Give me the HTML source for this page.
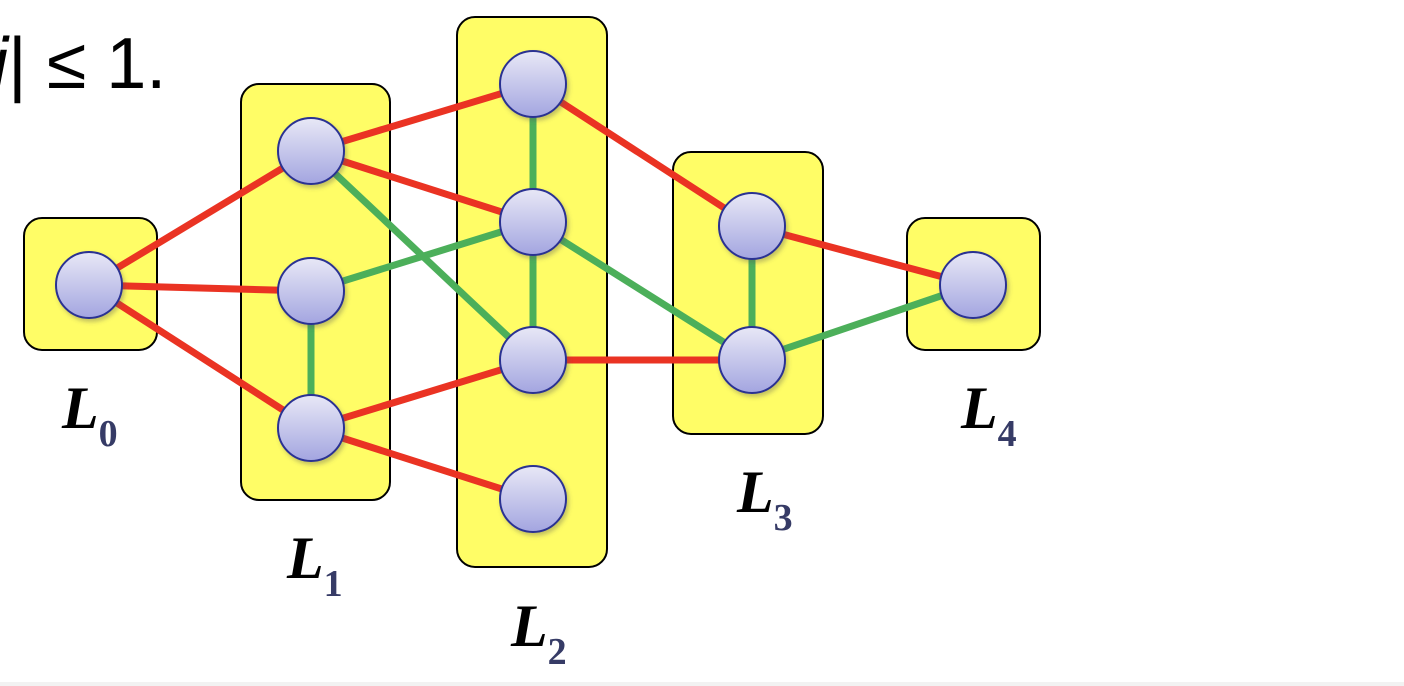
<!DOCTYPE html>
<html><head><style>
html,body{margin:0;padding:0;background:#fff;}
svg{display:block}
</style></head><body>
<svg width="1404" height="686" viewBox="0 0 1404 686" xmlns="http://www.w3.org/2000/svg">
<defs>
<linearGradient id="g" x1="0" y1="0" x2="0" y2="1">
<stop offset="0" stop-color="#e8e8f6"/><stop offset="1" stop-color="#a3a5e0"/>
</linearGradient>
<filter id="s" x="-30%" y="-30%" width="160%" height="160%"><feDropShadow dx="2" dy="3" stdDeviation="2" flood-color="#555" flood-opacity="0.35"/></filter>
</defs>
<rect x="0" y="682" width="1404" height="4" fill="#f2f2f2"/>
<text x="-8" y="88" font-family="Liberation Sans, sans-serif" font-size="72" fill="#000"><tspan font-style="italic">j</tspan>| ≤ 1.</text>
<g fill="#fffd66" stroke="#000" stroke-width="2">
<rect x="24" y="218" width="133" height="132" rx="18"/>
<rect x="241" y="84" width="149" height="416" rx="18"/>
<rect x="457" y="17" width="150" height="550" rx="18"/>
<rect x="673" y="152" width="150" height="282" rx="18"/>
<rect x="907" y="218" width="133" height="132" rx="18"/>
</g>
<g stroke-width="7" stroke-linecap="butt">
<g stroke="#4caf5a">
<line x1="311" y1="151" x2="533" y2="360"/>
<line x1="311" y1="291" x2="533" y2="222"/>
<line x1="311" y1="291" x2="311" y2="428"/>
<line x1="533" y1="84" x2="533" y2="222"/>
<line x1="533" y1="222" x2="533" y2="360"/>
<line x1="533" y1="222" x2="752" y2="360"/>
<line x1="752" y1="226" x2="752" y2="360"/>
<line x1="752" y1="360" x2="973" y2="285"/>
</g>
<g stroke="#ea3323">
<line x1="89" y1="285" x2="311" y2="151"/>
<line x1="89" y1="285" x2="311" y2="291"/>
<line x1="89" y1="285" x2="311" y2="428"/>
<line x1="311" y1="151" x2="533" y2="84"/>
<line x1="311" y1="151" x2="533" y2="222"/>
<line x1="311" y1="428" x2="533" y2="360"/>
<line x1="311" y1="428" x2="533" y2="499"/>
<line x1="533" y1="84" x2="752" y2="226"/>
<line x1="533" y1="360" x2="752" y2="360"/>
<line x1="752" y1="226" x2="973" y2="285"/>
</g>
</g>
<g fill="url(#g)" stroke="#2a3092" stroke-width="2" filter="url(#s)">
<circle cx="89" cy="285" r="33"/>
<circle cx="311" cy="151" r="33"/>
<circle cx="311" cy="291" r="33"/>
<circle cx="311" cy="428" r="33"/>
<circle cx="533" cy="84" r="33"/>
<circle cx="533" cy="222" r="33"/>
<circle cx="533" cy="360" r="33"/>
<circle cx="533" cy="499" r="33"/>
<circle cx="752" cy="226" r="33"/>
<circle cx="752" cy="360" r="33"/>
<circle cx="973" cy="285" r="33"/>
</g>
<g font-family="Liberation Serif, serif" font-weight="bold">
<text x="62" y="428" font-size="60" font-style="italic">L<tspan font-size="38" font-style="normal" fill="#363b66" dy="18">0</tspan></text>
<text x="287" y="578" font-size="60" font-style="italic">L<tspan font-size="38" font-style="normal" fill="#363b66" dy="18">1</tspan></text>
<text x="511" y="646" font-size="60" font-style="italic">L<tspan font-size="38" font-style="normal" fill="#363b66" dy="18">2</tspan></text>
<text x="737" y="512" font-size="60" font-style="italic">L<tspan font-size="38" font-style="normal" fill="#363b66" dy="18">3</tspan></text>
<text x="961" y="428" font-size="60" font-style="italic">L<tspan font-size="38" font-style="normal" fill="#363b66" dy="18">4</tspan></text>
</g>
</svg>
</body></html>
